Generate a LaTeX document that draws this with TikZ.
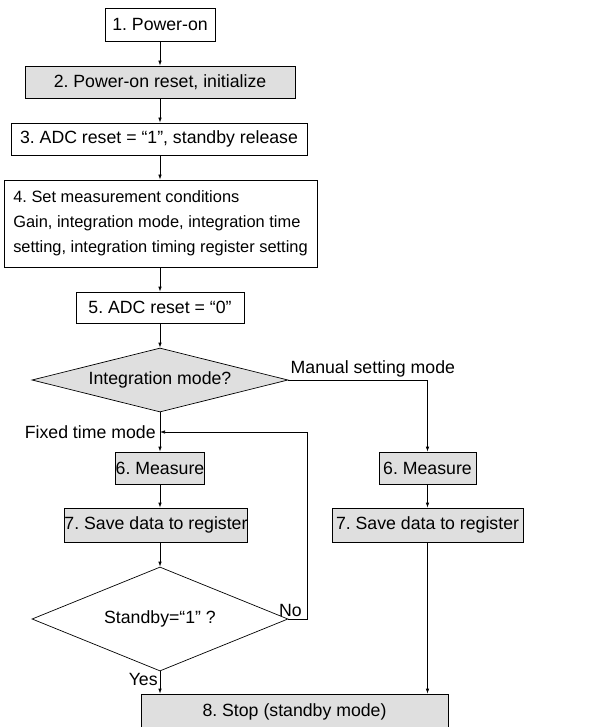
\documentclass[tikz,border=0pt]{standalone}
\usepackage{fontspec}
\setmainfont{Liberation Sans}
\frenchspacing
\usetikzlibrary{shapes.geometric,arrows.meta}

\tikzset{
  stepbox/.style={draw,inner sep=0,minimum height=32},
  graybox/.style={stepbox,fill=gray!25},
  decide/.style={diamond,draw,inner sep=0},
  flow/.style={-{Latex[length=5pt,width=3.5pt]}},
}

\begin{document}
\begin{tikzpicture}[x=1pt,y=-1pt,line width=0.7pt,font=\fontsize{17.7}{25}\selectfont]
\useasboundingbox (0,0) rectangle (609,727);
\node[stepbox,minimum width=110,minimum height=33] (power) at (160,24.5) {1. Power-on};
\node[graybox,minimum width=270] (reset) at (160,82) {2. Power-on reset, initialize};
\node[stepbox,minimum width=296] (release) at (159,139) {3. ADC reset = “1”, standby release};
\node[stepbox,minimum width=313,minimum height=87,align=left,font=\fontsize{16.4}{25}\selectfont] (cond) at (160.5,223.5)
  {4. Set measurement conditions\\Gain, integration mode, integration time\\setting, integration timing register setting};
\node[stepbox,minimum width=168,minimum height=31] (adc) at (160,307.5) {5. ADC reset = “0”};
\node[decide,aspect=4,fill=gray!25,minimum width=256,minimum height=64] (mode) at (160,380) {Integration mode?};
\node[graybox,minimum width=86] (measL) at (160,468) {6. Measure};
\node[graybox,minimum width=178,minimum height=34] (saveL) at (156,525) {7. Save data to register};
\node[graybox,minimum width=97] (measR) at (427.5,468) {6. Measure};
\node[graybox,minimum width=191,minimum height=34] (saveR) at (427.5,525) {7. Save data to register};
\node[decide,aspect=2.46,minimum width=256,minimum height=104] (standby) at (160,619) {Standby=“1” ?};
\node[graybox,minimum width=307,minimum height=35] (stop) at (294.5,711.5) {8. Stop (standby mode)};
\coordinate (join) at (160,432);

\draw[flow] (power) -- (reset);
\draw[flow] (reset.south) -- (reset.south |- release.north);
\draw[flow] (release.south -| reset.south) -- (reset.south |- cond.north);
\draw[flow] (reset.south |- cond.south) -- (adc);
\draw[flow] (adc) -- (mode);
\draw[flow] (mode.east) -| (measR.north);
\draw[flow] (mode.south) -- (measL.north);
\draw[flow] (measL.south) -- (measL.south |- saveL.north);
\draw[flow] (measL.south |- saveL.south) -- (standby.north);
\draw[flow] (standby.east) -- ++(19,0) |- (join);
\draw[flow] (standby.south) -- (standby.south |- stop.north);
\draw[flow] (measR) -- (saveR);
\draw[flow] (saveR) -- (saveR |- stop.north);

\node[anchor=south west,inner sep=2pt] at (mode.east) {Manual setting mode};
\node[anchor=east,inner sep=4pt] at (join) {Fixed time mode};
\node[anchor=south,inner sep=2pt,xshift=2pt] at (standby.east) {No};
\node[anchor=north east,inner sep=2pt] at (standby.south) {Yes};
\end{tikzpicture}
\end{document}
